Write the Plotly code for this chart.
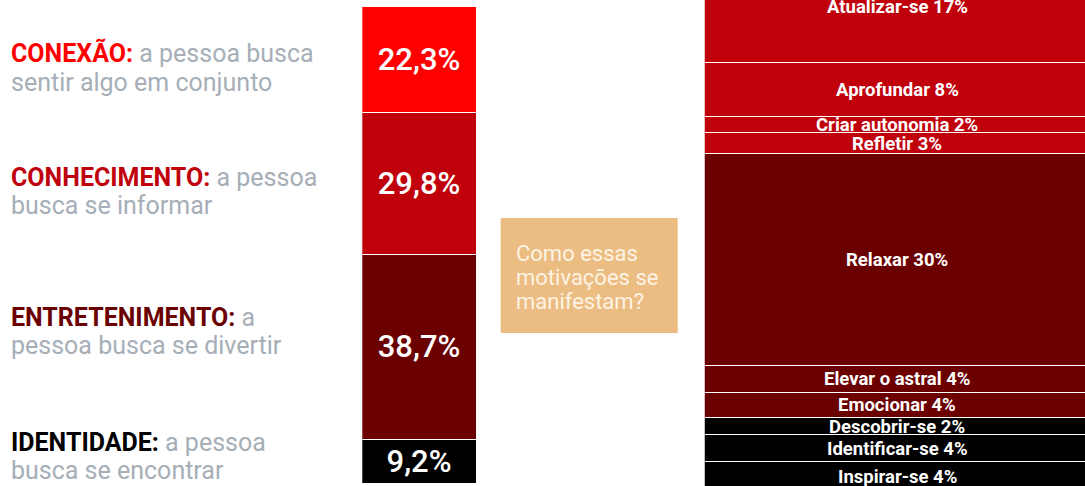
import plotly.graph_objects as go

# ---------------- data ----------------
categories = ["CONEXÃO", "CONHECIMENTO", "ENTRETENIMENTO", "IDENTIDADE"]
shares = [22.3, 29.8, 38.7, 9.2]
share_labels = ["22,3%", "29,8%", "38,7%", "9,2%"]
desc_line1 = ["a pessoa busca", "a pessoa", "a", "a pessoa"]
desc_line2 = ["sentir algo em conjunto", "busca se informar", "pessoa busca se divertir", "busca se encontrar"]

motiv_names = ["Atualizar-se", "Aprofundar", "Criar autonomia", "Refletir", "Relaxar",
               "Elevar o astral", "Emocionar", "Descobrir-se", "Identificar-se", "Inspirar-se"]
motiv_labels = [17, 8, 2, 3, 30, 4, 4, 2, 4, 4]
motiv_values = [16.5, 7.8, 2.45, 3.05, 31.1, 3.9, 3.65, 2.6, 3.9, 4.4]
motiv_group = ["CONHECIMENTO", "CONHECIMENTO", "CONHECIMENTO", "CONHECIMENTO",
               "ENTRETENIMENTO", "ENTRETENIMENTO", "ENTRETENIMENTO",
               "IDENTIDADE", "IDENTIDADE", "IDENTIDADE"]

box_lines = ["Como essas", "motivações se", "manifestam?"]

# ---------------- styles ----------------
W, H = 1085, 486
colors = {"CONEXÃO": "#FF0000", "CONHECIMENTO": "#C0000B",
          "ENTRETENIMENTO": "#6B0000", "IDENTIDADE": "#000000"}
GRAY = "#A6AEB7"
FONT = "Roboto"

fig = go.Figure()

# middle stacked bar
for cat, v, lab in zip(categories, shares, share_labels):
    fig.add_trace(go.Bar(
        x=[0], y=[v], xaxis="x", yaxis="y", width=1,
        marker=dict(color=colors[cat], line=dict(color="white", width=1.5)),
        text=[lab], textposition="inside", insidetextanchor="middle",
        textangle=0, constraintext="none",
        textfont=dict(family=FONT, size=31, color="white", weight=500),
        hoverinfo="skip", showlegend=False))

# right stacked bar
annotations = []
cum = 0.0
for name, v, lab, grp in zip(motiv_names, motiv_values, motiv_labels, motiv_group):
    fig.add_trace(go.Bar(
        x=[0], y=[v], xaxis="x2", yaxis="y2", width=1,
        marker=dict(color=colors[grp], line=dict(color="white", width=1.5)),
        hoverinfo="skip", showlegend=False))
    annotations.append(dict(
        x=0, y=cum + v / 2, xref="x2", yref="y2", text=f"{name} {lab}%",
        showarrow=False, xanchor="center", yanchor="middle",
        font=dict(family=FONT, size=18.5, color="white", weight=700)))
    cum += v

# left descriptions
line_y = [(53, 83), (177, 205), (317, 345), (442, 470)]
for cat, d1, d2, (y1, y2) in zip(categories, desc_line1, desc_line2, line_y):
    annotations.append(dict(
        x=9 / W, y=1 - y1 / H, xref="paper", yref="paper",
        text=f"<b><span style='color:{colors[cat]}'>{cat}:</span></b> {d1}",
        showarrow=False, xanchor="left", yanchor="middle",
        font=dict(family=FONT, size=25, color=GRAY)))
    annotations.append(dict(
        x=9 / W, y=1 - y2 / H, xref="paper", yref="paper", text=d2,
        showarrow=False, xanchor="left", yanchor="middle",
        font=dict(family=FONT, size=25, color=GRAY)))

# tan box text
for t, yy in zip(box_lines, [253, 277.5, 301]):
    annotations.append(dict(
        x=514 / W, y=1 - yy / H, xref="paper", yref="paper", text=t,
        showarrow=False, xanchor="left", yanchor="middle",
        font=dict(family=FONT, size=22, color="#FDF3E4")))

shapes = [dict(type="rect", xref="paper", yref="paper",
               x0=500.7 / W, x1=677.7 / W, y0=1 - 333 / H, y1=1 - 218 / H,
               fillcolor="#EBBD83", line=dict(width=0), layer="below")]

fig.update_layout(
    width=W, height=H, margin=dict(l=0, r=0, t=0, b=0),
    paper_bgcolor="white", plot_bgcolor="rgba(0,0,0,0)",
    barmode="stack", bargap=0, showlegend=False,
    xaxis=dict(domain=[362.3 / W, 477 / W], range=[-0.5, 0.5], visible=False),
    yaxis=dict(domain=[0, 1], range=[100.44, -1.404], visible=False),
    xaxis2=dict(domain=[704.5 / W, 1], range=[-0.5, 0.487], visible=False, anchor="y2"),
    yaxis2=dict(domain=[0, 1], range=[78.47, 7.214], visible=False, anchor="x2"),
    annotations=annotations, shapes=shapes,
)

fig.write_html("out.html")
